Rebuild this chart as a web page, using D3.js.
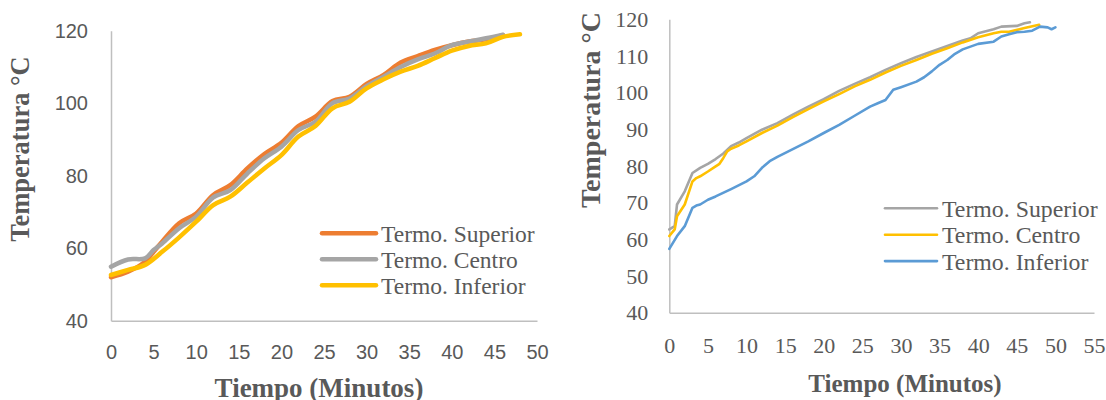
<!DOCTYPE html>
<html><head><meta charset="utf-8">
<script src="https://cdn.jsdelivr.net/npm/d3@7"></script>
<style>body{margin:0;background:#fff}svg{display:block}</style>
</head><body><svg id="c" width="1106" height="400"></svg>
<script>
// ---- Left chart data ----
const leftSeriesNames = ["Termo. Superior", "Termo. Centro", "Termo. Inferior"];
const leftSupT = [0,2,4,5,6,8,10,12,14,16,18,20,22,24,26,28,30,32,34,36,38,40,42,44,46];
const leftSupV = [52,53.5,56.3,59,61.8,66.9,69.6,74.7,77.4,82,86,89.1,93.7,96.3,100.6,101.8,105.3,107.8,111.2,113,114.7,116,117,117.6,118.8];
const leftCenT = [0,2,4,5,6,8,10,12,14,16,18,20,22,24,26,28,30,32,34,36,38,40,42,44,46];
const leftCenV = [54.9,56.9,57.2,59.5,61.3,65.5,68.7,74,76,80.6,84.8,88,92.6,94.9,100,101.3,104.7,107.3,110,112.1,113.7,116,117,117.9,118.9];
const leftInfT = [0,2,4,6,8,10,12,14,16,18,20,22,24,26,28,30,32,34,36,38,40,42,44,46,48];
const leftInfV = [52.6,54,55.4,59,63,67.3,71.9,74.2,78.1,82,85.7,90.8,93.7,98.6,100.4,104.1,106.6,108.7,110.3,112.4,114.5,115.8,116.5,118.3,119];
const leftXTicks = [0,5,10,15,20,25,30,35,40,45,50];
const leftYTicks = [40,60,80,100,120];

// ---- Right chart data ----
const rightSeriesNames = ["Termo. Superior", "Termo. Centro", "Termo. Inferior"];
const rightSupT = [0,0.7,1,2,3,4,5,6,7,8,9,10,12,14,16,18,20,22,24,26,28,30,32,34,36,38,39,40,42,43,45,46,46.7];
const rightSupV = [62.7,63.6,69.5,73.1,78.1,79.5,80.6,81.9,83.4,85.4,86.4,87.6,89.9,91.7,94,96.2,98.2,100.5,102.4,104.2,106.2,108,109.7,111.2,112.7,114.2,114.8,116.2,117.3,118,118.2,118.9,119.2];
const rightCenT = [0,0.7,1,2,3,3.5,4,5,6,6.5,7,7.5,8,9,10,12,14,16,18,20,22,24,26,28,30,32,34,36,38,40,42,43,44,46,47.9];
const rightCenV = [60.9,62.7,66.3,69.5,75.8,76.7,77.2,78.5,79.9,80.6,82.2,84,84.7,85.6,86.7,89,91,93.3,95.5,97.6,99.6,101.7,103.5,105.5,107.3,108.9,110.6,112.1,113.7,115.1,116.2,116.6,116.6,117.6,118.5];
const rightInfT = [0,1,2,3,3.5,4,5,6,8,10,11,12,13,14,16,18,20,22,24,26,27,28,29,30,32,33,34,35,36,37,38,40,42,43,44,45,46,47,48,49,49.5,50];
const rightInfV = [57.4,60.9,63.6,68.6,69.2,69.5,70.8,71.7,73.7,75.8,77.2,79.5,81.3,82.5,84.6,86.7,89,91.2,93.7,96.2,97.1,98,100.8,101.5,103,104.2,105.8,107.6,108.9,110.6,111.8,113.3,113.9,115.3,115.9,116.5,116.6,116.9,118,117.8,117.3,117.8];
const rightXTicks = [0,5,10,15,20,25,30,35,40,45,50,55];
const rightYTicks = [40,50,60,70,80,90,100,110,120];

const zip = (t, v) => t.map((d, i) => ({t: d, v: v[i]}));
const svg = d3.select("#c");
const txtCol = "#595959", axisCol = "#bfbfbf";
const SERIF = "'Liberation Serif', 'Times New Roman', serif";
const SANS = "'Liberation Sans', Arial, sans-serif";

function drawChart(cfg) {
  const g = svg.append("g");
  const x = d3.scaleLinear().domain(cfg.xDom).range(cfg.xRange);
  const y = d3.scaleLinear().domain(cfg.yDom).range(cfg.yRange);
  const ya = g.append("g").attr("transform", `translate(${cfg.xRange[0]},0)`)
    .call(d3.axisLeft(y).tickValues(cfg.yTicks).tickSize(0).tickPadding(cfg.yPad));
  const xa = g.append("g").attr("transform", `translate(0,${cfg.yRange[0]})`)
    .call(d3.axisBottom(x).tickValues(cfg.xTicks).tickSize(0).tickPadding(cfg.xPad));
  [ya, xa].forEach(a => {
    a.attr("font-family", null).attr("font-size", null);
    a.select(".domain").attr("stroke", axisCol).attr("stroke-width", 1.5);
    a.selectAll("text").attr("fill", txtCol)
      .style("font-family", cfg.tickFont).style("font-size", cfg.tickSize + "px");
  });
  const line = d3.line().x(d => x(d.t)).y(d => y(d.v)).curve(cfg.curve);
  cfg.series.forEach(s => {
    g.append("path").datum(s.data).attr("fill", "none").attr("stroke", s.color)
      .attr("stroke-width", cfg.lw).attr("stroke-linejoin", "round").attr("stroke-linecap", "round")
      .attr("d", line);
  });
  // legend
  cfg.series.forEach((s, i) => {
    const ly = cfg.legY + i * cfg.legDy;
    g.append("line").attr("x1", cfg.legX).attr("x2", cfg.legX + cfg.legLen).attr("y1", ly).attr("y2", ly)
      .attr("stroke", s.color).attr("stroke-width", cfg.lw).attr("stroke-linecap", "round");
    g.append("text").attr("x", cfg.legX + cfg.legLen + 5).attr("y", ly + cfg.legBase)
      .style("font-family", SERIF).style("font-size", cfg.legSize + "px")
      .attr("fill", txtCol).text(s.name);
  });
  // titles
  g.append("text").attr("x", cfg.xtX).attr("y", cfg.xtY).attr("text-anchor", "middle")
    .style("font-family", SERIF).style("font-weight", "bold")
    .style("font-size", cfg.xtSize + "px").attr("fill", txtCol).text("Tiempo (Minutos)");
  g.append("text").attr("transform", `translate(${cfg.ytX},${cfg.ytY}) rotate(-90)`).attr("text-anchor", "middle")
    .style("font-family", SERIF).style("font-weight", "bold")
    .style("font-size", cfg.ytSize + "px").attr("fill", txtCol).text("Temperatura °C");
}

drawChart({
  xDom: [0, 50], xRange: [111, 537], yDom: [40, 120], yRange: [320.7, 30.7],
  xTicks: leftXTicks, yTicks: leftYTicks, xPad: 24, yPad: 23,
  tickFont: SANS, tickSize: 20,
  curve: d3.curveCatmullRom.alpha(0.5), lw: 4.5,
  series: [
    {name: leftSeriesNames[0], color: "#ED7D31", data: zip(leftSupT, leftSupV)},
    {name: leftSeriesNames[1], color: "#A5A5A5", data: zip(leftCenT, leftCenV)},
    {name: leftSeriesNames[2], color: "#FFC000", data: zip(leftInfT, leftInfV)}
  ],
  legX: 322, legY: 233.3, legDy: 26, legLen: 54, legBase: 9, legSize: 23.5,
  xtX: 319, xtY: 397, xtSize: 27, ytX: 29, ytY: 149, ytSize: 26.5
});

drawChart({
  xDom: [0, 55], xRange: [669.3, 1094], yDom: [40, 120], yRange: [312.7, 19.3],
  xTicks: rightXTicks, yTicks: rightYTicks, xPad: 24.5, yPad: 21,
  tickFont: SERIF, tickSize: 22,
  curve: d3.curveLinear, lw: 2.6,
  series: [
    {name: rightSeriesNames[0], color: "#A5A5A5", data: zip(rightSupT, rightSupV)},
    {name: rightSeriesNames[1], color: "#FFC000", data: zip(rightCenT, rightCenV)},
    {name: rightSeriesNames[2], color: "#5B9BD5", data: zip(rightInfT, rightInfV)}
  ],
  legX: 885, legY: 208.3, legDy: 26.4, legLen: 52, legBase: 8.4, legSize: 23.8,
  xtX: 905, xtY: 392, xtSize: 25, ytX: 600, ytY: 110, ytSize: 28
});
</script></body></html>
